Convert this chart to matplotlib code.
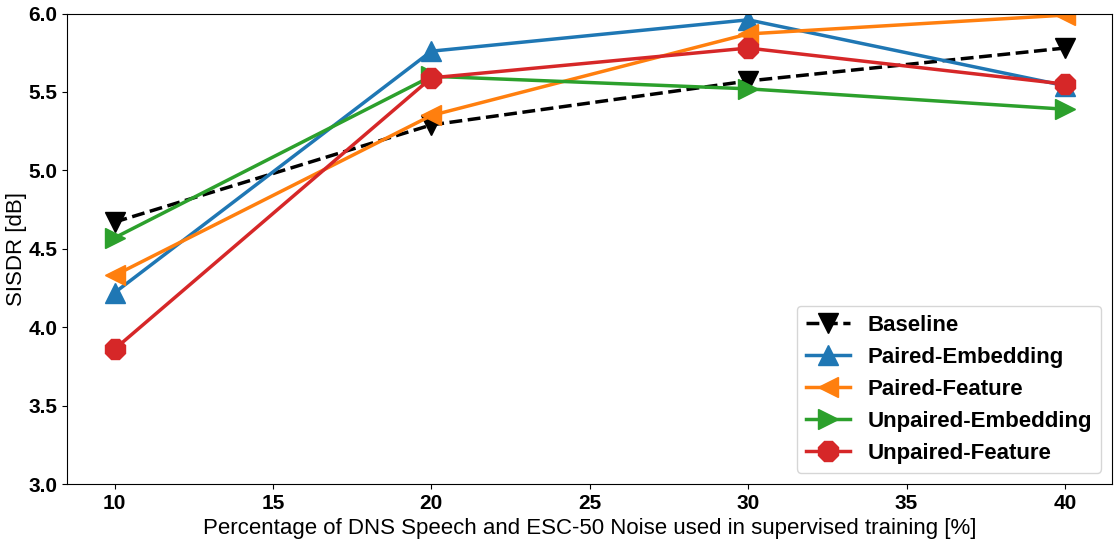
import matplotlib.pyplot as plt

plt.rcParams['font.family'] = ['Liberation Sans', 'DejaVu Sans']

pct = [10, 20, 30, 40]
baseline = [4.67, 5.29, 5.57, 5.78]
paired_emb = [4.22, 5.76, 5.96, 5.54]
paired_feat = [4.33, 5.35, 5.87, 5.99]
unpaired_emb = [4.57, 5.60, 5.52, 5.39]
unpaired_feat = [3.86, 5.59, 5.78, 5.55]

fig, ax = plt.subplots(figsize=(11.18, 5.42), dpi=100)

ax.plot(pct, baseline, 'k--v', lw=2.5, ms=15, label='Baseline')
ax.plot(pct, paired_emb, '-^', color='tab:blue', lw=2.5, ms=15, label='Paired-Embedding')
ax.plot(pct, paired_feat, '-<', color='tab:orange', lw=2.5, ms=15, label='Paired-Feature')
ax.plot(pct, unpaired_emb, '->', color='tab:green', lw=2.5, ms=15, label='Unpaired-Embedding')
ax.plot(pct, unpaired_feat, '-8', color='tab:red', lw=2.5, ms=15, label='Unpaired-Feature')

ax.set_ylim(3.0, 6.0)
ax.set_xlabel('Percentage of DNS Speech and ESC-50 Noise used in supervised training [%]', fontsize=16)
ax.set_ylabel('SISDR [dB]', fontsize=16, labelpad=1)
ax.tick_params(labelsize=15)
plt.setp(ax.get_xticklabels() + ax.get_yticklabels(), fontweight='bold')

ax.legend(loc='lower right', prop={'weight': 'bold', 'size': 16})

plt.subplots_adjust(left=0.06, right=0.995, top=0.975, bottom=0.107)
plt.savefig('out.png')
